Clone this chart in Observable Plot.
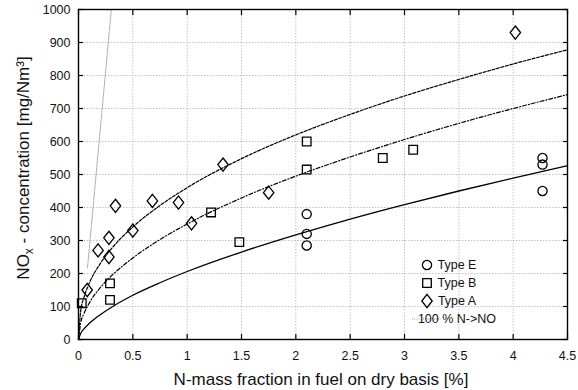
<!DOCTYPE html>
<html>
<head>
<meta charset="utf-8">
<script src="https://cdn.jsdelivr.net/npm/d3@7"></script>
<script src="https://cdn.jsdelivr.net/npm/@observablehq/plot@0.6"></script>
<style>
  html, body { margin: 0; padding: 0; background: #fff; }
  #chart { width: 578px; height: 390px; }
  svg { font-family: "Liberation Sans", Arial, Helvetica, sans-serif; }
</style>
</head>
<body>
<div id="chart"></div>
<script>
// ---- Data ----
const typeAX = [0.08, 0.18, 0.28, 0.28, 0.34, 0.50, 0.68, 0.92, 1.04, 1.33, 1.75, 4.02];
const typeAY = [150, 270, 308, 250, 405, 330, 420, 415, 352, 530, 445, 930];
const typeBX = [0.03, 0.29, 0.29, 1.22, 1.48, 2.10, 2.10, 2.80, 3.08];
const typeBY = [110, 170, 120, 385, 295, 600, 515, 550, 575];
const typeEX = [2.10, 2.10, 2.10, 4.27, 4.27, 4.27];
const typeEY = [380, 320, 285, 550, 530, 450];

// Fitted curves
const curveX = [0, 0.02, 0.05, 0.1, 0.2, 0.3, 0.5, 0.75, 1, 1.5, 2, 2.5, 3, 3.5, 4, 4.5];
const fitE  = [0, 18, 32, 49, 75, 97, 134, 172, 206, 265, 317, 365, 409, 450, 489, 527];
const fitB  = [0, 50, 78, 111, 157, 192, 247, 303, 350, 429, 495, 553, 606, 655, 700, 742];
const fitA  = [0, 86, 127, 171, 230, 274, 341, 406, 460, 548, 620, 682, 738, 788, 835, 878];

// 100 % N -> NO line (visible segment)
const fullConvX = [0.083, 0.302];
const fullConvY = [218, 1000];

const xTicks = [0, 0.5, 1, 1.5, 2, 2.5, 3, 3.5, 4, 4.5];
const yTicks = [0, 100, 200, 300, 400, 500, 600, 700, 800, 900, 1000];

const legendLabels = ["Type E", "Type B", "Type A", "100 % N->NO"];

// ---- build tables ----
const ptsA = typeAX.map((x, i) => ({x, y: typeAY[i]}));
const ptsB = typeBX.map((x, i) => ({x, y: typeBY[i]}));
const ptsE = typeEX.map((x, i) => ({x, y: typeEY[i]}));
const lineE = curveX.map((x, i) => ({x, y: fitE[i]}));
const lineB = curveX.map((x, i) => ({x, y: fitB[i]}));
const lineA = curveX.map((x, i) => ({x, y: fitA[i]}));
const lineFull = fullConvX.map((x, i) => ({x, y: fullConvY[i]}));

const diamondSym = {draw(ctx) { const w = 5.2, h = 6.6; ctx.moveTo(0, -h); ctx.lineTo(w, 0); ctx.lineTo(0, h); ctx.lineTo(-w, 0); ctx.closePath(); }};
const squareSym = {draw(ctx) { ctx.rect(-4.3, -4.3, 8.6, 8.6); }};
const circleSym = {draw(ctx) { ctx.moveTo(4.6, 0); ctx.arc(0, 0, 4.6, 0, 2 * Math.PI); }};

const fmt = d => String(d);
const none = () => "";
const gridStyle = {stroke: "#b4b4b4", strokeOpacity: 1, strokeWidth: 0.8, strokeDasharray: "1.5,1.5"};
const tickStyle = {tickSize: 5, label: null, tickFormat: none, stroke: "#000", strokeWidth: 1.2};

const plot = Plot.plot({
  width: 578,
  height: 390,
  marginLeft: 78,
  marginRight: 11,
  marginTop: 9,
  marginBottom: 51,
  style: {fontFamily: '"Liberation Sans", Arial, Helvetica, sans-serif', fontSize: "12.5px", background: "#fff", color: "#111"},
  x: {domain: [0, 4.5]},
  y: {domain: [0, 1000]},
  marks: [
    Plot.gridX(xTicks, gridStyle),
    Plot.gridY(yTicks, gridStyle),
    Plot.line(lineFull, {x: "x", y: "y", stroke: "#a0a0a0", strokeWidth: 1, strokeDasharray: "1,1.2", clip: true}),
    Plot.line(lineE, {x: "x", y: "y", stroke: "#000", strokeWidth: 1.3, curve: "monotone-x"}),
    Plot.line(lineB, {x: "x", y: "y", stroke: "#000", strokeWidth: 1.2, strokeDasharray: "4,2,1,2", curve: "monotone-x"}),
    Plot.line(lineA, {x: "x", y: "y", stroke: "#000", strokeWidth: 1.2, strokeDasharray: "3,1.6", curve: "monotone-x"}),
    Plot.dot(ptsE, {x: "x", y: "y", symbol: circleSym, stroke: "#000", strokeWidth: 1.3, fill: "none"}),
    Plot.dot(ptsB, {x: "x", y: "y", symbol: squareSym, stroke: "#000", strokeWidth: 1.3, fill: "none"}),
    Plot.dot(ptsA, {x: "x", y: "y", symbol: diamondSym, stroke: "#000", strokeWidth: 1.3, fill: "none"}),
    // tick labels
    Plot.axisX(xTicks, {anchor: "bottom", tickSize: 0, tickPadding: 12, tickFormat: fmt, label: null, fontSize: 12.5}),
    Plot.axisY(yTicks, {anchor: "left", tickSize: 0, tickPadding: 8, tickFormat: fmt, label: null, fontSize: 12.5}),
    // inward ticks on all four sides
    Plot.axisX(xTicks, {anchor: "bottom", dy: -5, ...tickStyle}),
    Plot.axisX(xTicks, {anchor: "top", dy: 5, ...tickStyle}),
    Plot.axisY(yTicks, {anchor: "left", dx: 5, ...tickStyle}),
    Plot.axisY(yTicks, {anchor: "right", dx: -5, ...tickStyle}),
    Plot.frame({stroke: "#000", strokeWidth: 1.4})
  ]
});

document.getElementById("chart").appendChild(plot);

// ---- axis titles (with subscript) and legend ----
const svg = d3.select(plot);
const font = '"Liberation Sans", Arial, Helvetica, sans-serif';

svg.append("text")
  .attr("x", 321).attr("y", 385)
  .attr("text-anchor", "middle")
  .attr("font-family", font).attr("font-size", 17).attr("fill", "#111")
  .text("N-mass fraction in fuel on dry basis [%]");

const yl = svg.append("text")
  .attr("transform", "translate(29,168) rotate(-90)")
  .attr("text-anchor", "middle")
  .attr("font-family", font).attr("font-size", 17).attr("fill", "#111");
yl.append("tspan").text("NO");
yl.append("tspan").attr("font-size", 12).attr("dy", 4).text("x");
yl.append("tspan").attr("dy", -4).text(" - concentration [mg/Nm³]");

const lg = svg.append("g").attr("font-family", font).attr("font-size", 12.5).attr("fill", "#111");
const rowsY = [265, 283, 301, 319];
const syms = [circleSym, squareSym, diamondSym];
syms.forEach((s, i) => {
  const p = d3.path(); s.draw(p);
  lg.append("path").attr("d", p.toString()).attr("transform", `translate(427,${rowsY[i]})`)
    .attr("fill", "none").attr("stroke", "#000").attr("stroke-width", 1.3);
});
lg.append("line").attr("x1", 412).attr("x2", 441).attr("y1", rowsY[3]).attr("y2", rowsY[3])
  .attr("stroke", "#a0a0a0").attr("stroke-width", 1).attr("stroke-dasharray", "1,1.2");
legendLabels.forEach((t, i) => {
  lg.append("text").attr("x", 457).attr("y", rowsY[i]).attr("dy", "0.35em").text(t);
});
</script>
</body>
</html>
